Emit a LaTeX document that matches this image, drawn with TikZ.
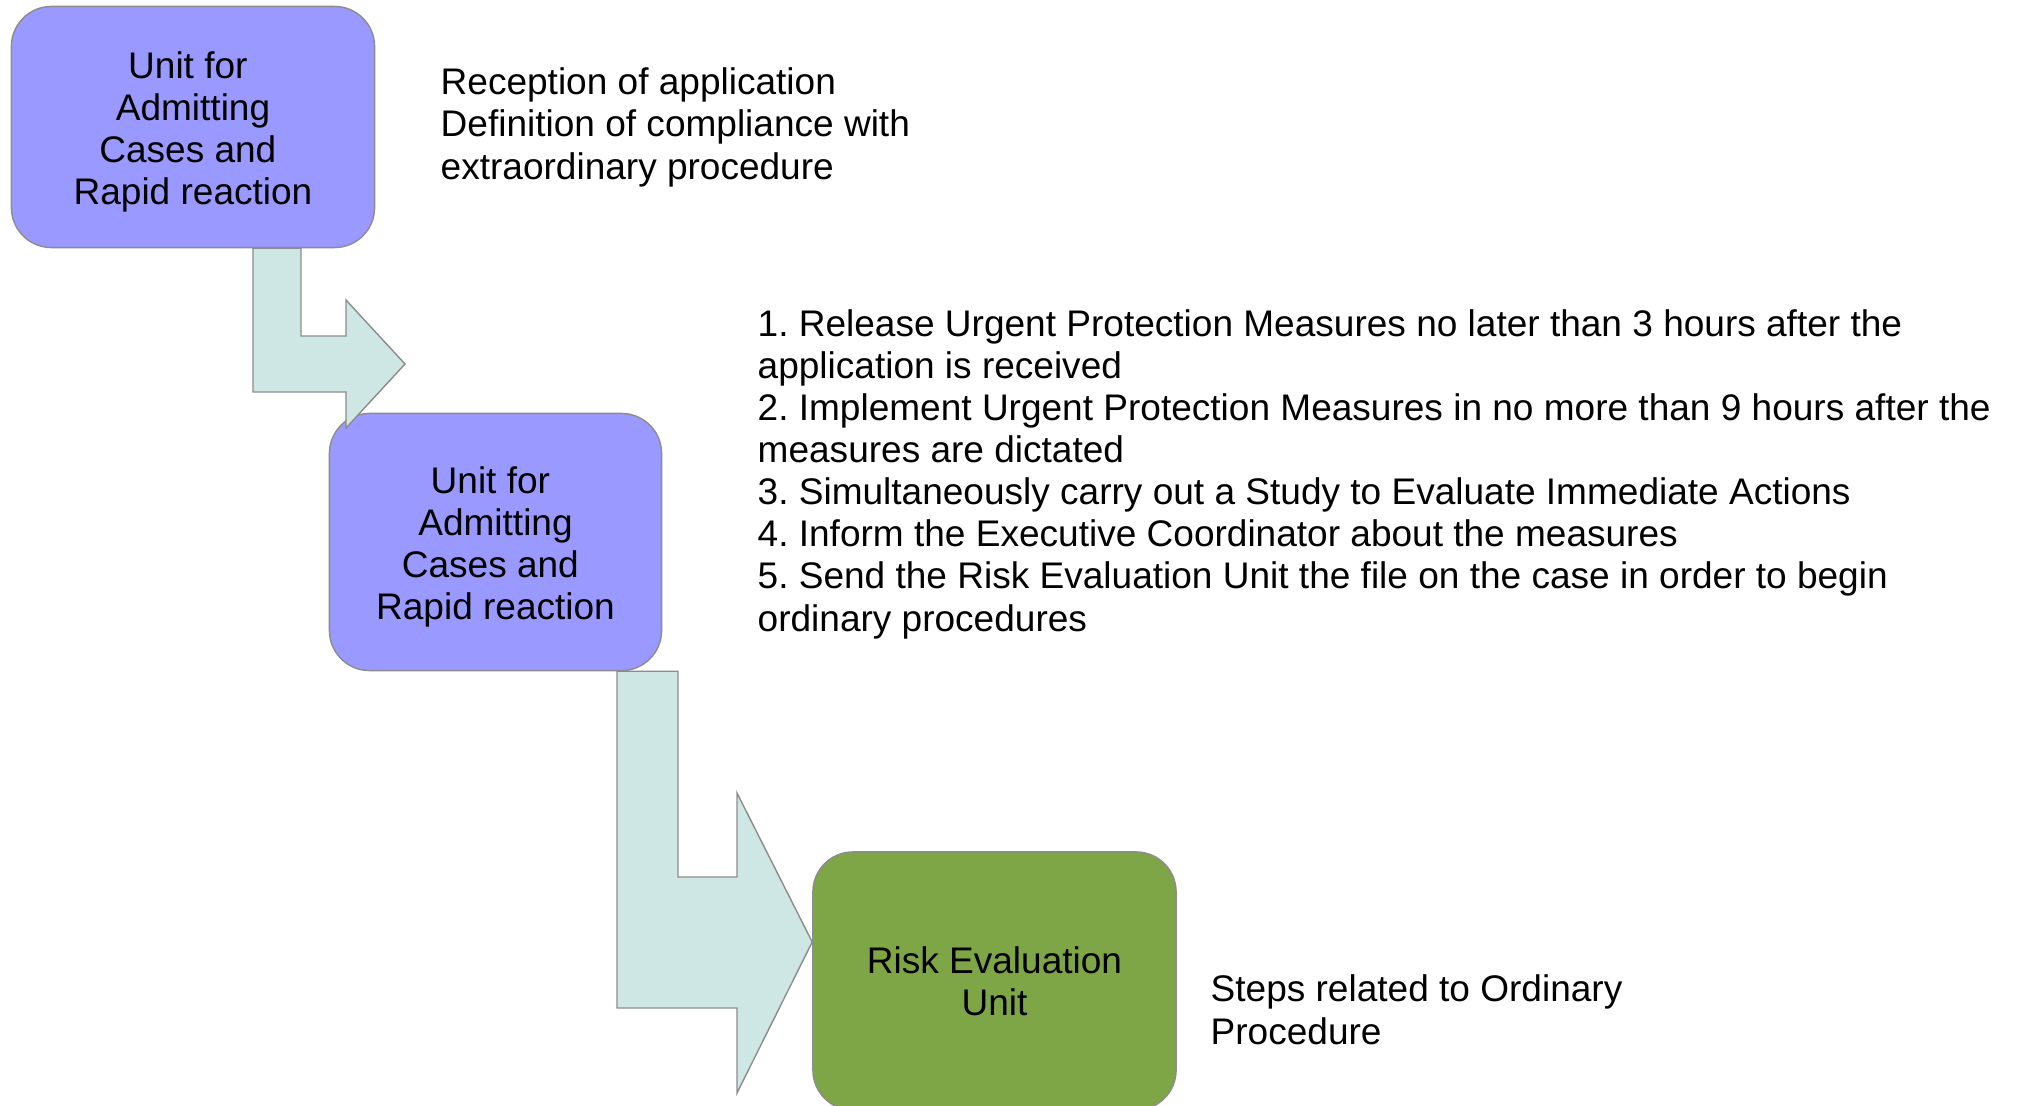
\documentclass[tikz,border=0pt]{standalone}
\usepackage{fontspec}
\setmainfont{Liberation Sans}
\usetikzlibrary{calc}
\definecolor{unitblue}{HTML}{9999FF}
\definecolor{riskgreen}{HTML}{7EA646}
\definecolor{flowteal}{HTML}{CFE7E4}
\definecolor{edgegray}{HTML}{8C8C8C}
\frenchspacing
\def\admitunit{\rule{0pt}{0.37cm}Unit for~\null\\Admitting\\Cases and~\null\\Rapid reaction}
\tikzset{
	unit/.style={draw=edgegray, line width=0.4pt, rounded corners=0.4cm, align=center, inner sep=0pt},
	bent/.style={draw=edgegray, line width=0.4pt, fill=flowteal},
	note/.style={anchor=base west, align=left, inner sep=0pt}
}

\begin{document}
\begin{tikzpicture}[x=0.01cm, y=-0.01cm, font=\fontsize{10.53pt}{11.95pt}\selectfont]
		%%%%% START %%%%%
		\useasboundingbox (0, 0) rectangle (2018, 1106);
		
		\node[unit, fill=unitblue, minimum width=3.63cm, minimum height=2.41cm] (u1) at (193, 127) {\admitunit};
		\node[unit, fill=unitblue, minimum width=3.32cm, minimum height=2.57cm] (u2) at (495.5, 542) {\admitunit};
		\node[unit, fill=riskgreen, minimum width=3.63cm, minimum height=2.58cm] (u3) at (994.5, 981) {Risk Evaluation\\Unit};
		
		\draw[bent] (253,0 |- u1.south) -- (253, 392) -- (346, 392) -- (346, 428) -- (405, 364)
			-- (346, 300) -- (346, 336) -- (301, 336) -- (301,0 |- u1.south) -- cycle;
		\draw[bent] (617,0 |- u2.south) -- (617, 1008) -- (737, 1008) -- (737, 1093) -- (u3.west |- 0,942)
			-- (737, 793) -- (737, 877) -- (678, 877) -- (678,0 |- u2.south) -- cycle;
		
		% base of a note = base of its last line
		\node[note] (n1) at (440, 179) {Reception of application\\Definition of compliance with\\extraordinary procedure};
		
		\node[note] (n2) at (757, 631) {1. Release Urgent Protection Measures no later than 3 hours after the\\application is received\\2. Implement Urgent Protection Measures in no more than 9 hours after the\\measures are dictated\\3. Simultaneously carry out a Study to Evaluate Immediate Actions\\4. Inform the Executive Coordinator about the measures\\5. Send the Risk Evaluation Unit the file on the case in order to begin\\ordinary procedures};
		
		\node[note] (n3) at (1210, 1044) {Steps related to Ordinary\\Procedure};
		
		%%%%% END %%%%%
\end{tikzpicture}
\end{document}
